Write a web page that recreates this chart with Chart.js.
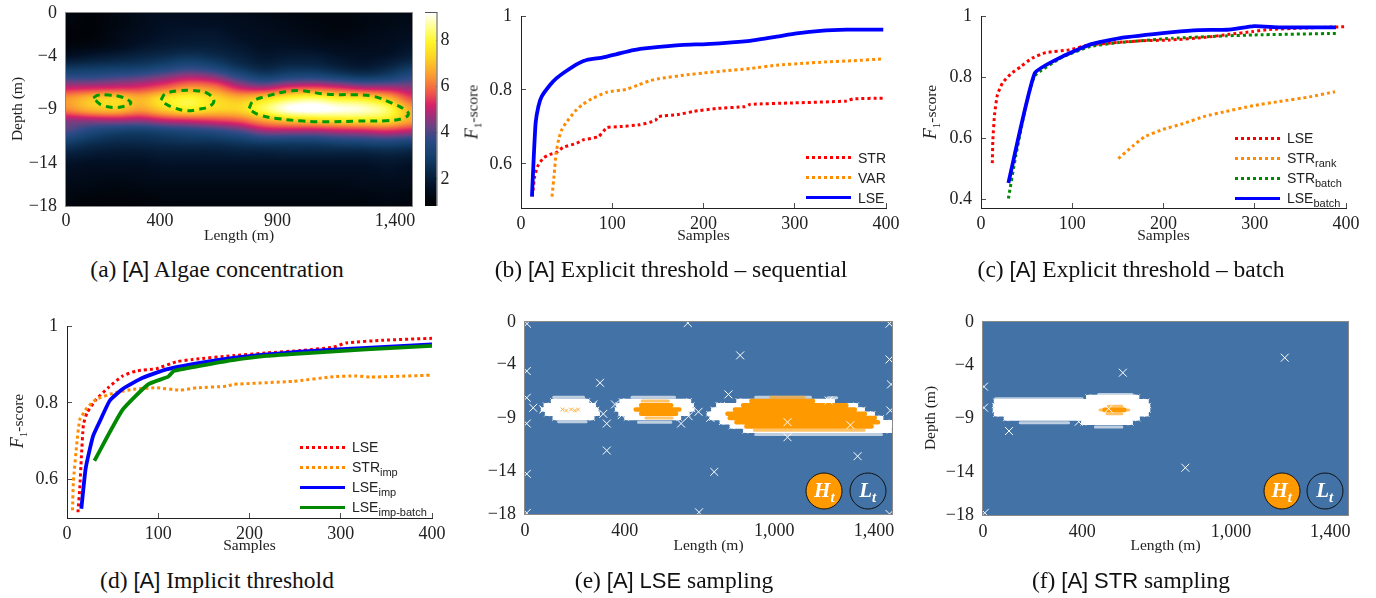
<!DOCTYPE html>
<html>
<head>
<meta charset="utf-8">
<title>Algae sampling</title>
<script src="https://cdn.jsdelivr.net/npm/chart.js@4"></script>
<style>
body { margin: 0; width: 1376px; height: 598px; background: #fff; overflow: hidden; position: relative; font-family: "Liberation Serif", serif; color: #111; }
canvas { position: absolute; }
.caption { position: absolute; font-size: 23.5px; white-space: nowrap; transform: translate(-50%, -50%); }
.sans { font-family: "Liberation Sans", sans-serif; font-size: 22px; }
.ytitle { position: absolute; font-size: 15.5px; white-space: nowrap; color: #222; transform: translate(-50%, -50%) rotate(-90deg); }
.ytitle i { font-size: 18px; }
.ytitle sub { font-size: 11px; line-height: 0; }
.legend { position: absolute; font-family: "Liberation Sans", sans-serif; font-size: 14px; color: #222; white-space: nowrap; transform: translateY(-50%); }
.legend sub { font-size: 11px; line-height: 0; }
.swatch { position: absolute; height: 3px; width: 45px; }
.badge { position: absolute; width: 35px; height: 35px; border: 1.4px solid #111; border-radius: 50%; transform: translate(-50%, -50%); color: #fff; font: italic bold 21px "Liberation Serif", serif; text-align: center; line-height: 33px; }
.badge sub { font-size: 15px; line-height: 0; }
</style>
</head>
<body>
<script>
// (b) explicit threshold, sequential
var bStrSamples = [12.4, 15, 18, 24.5, 32, 39, 46, 61, 68, 85, 94, 108.5, 130, 147, 150.5, 171, 189, 214, 245.5, 251, 298, 357, 364, 397]
var bStrScore = [.512, .566, .593, .616, .626, .631, .645, .656, .665, .674, .698, .701, .706, .717, .728, .733, .742, .75, .755, .761, .765, .77, .776, .778]
var bVarSamples = [34, 36.5, 38.4, 41.6, 44.6, 49, 59, 67.6, 77.4, 94, 116, 129, 141, 152, 181.6, 200, 225, 251, 280, 309, 335, 364, 397]
var bVarScore = [.512, .575, .629, .67, .692, .71, .742, .761, .776, .794, .802, .814, .825, .831, .841, .846, .852, .858, .867, .872, .876, .879, .884]
var bLseSamples = [12, 14, 16, 19, 22.6, 32, 39, 50, 63, 72, 90, 105, 123, 141, 178, 203, 251, 280, 302, 328, 357, 397]
var bLseScore = [.512, .62, .71, .755, .782, .814, .832, .852, .872, .881, .888, .897, .908, .914, .922, .924, .933, .944, .953, .96, .963, .963]

// (c) explicit threshold, batch
var cLseSamples = [12.4, 13, 15, 18, 23.4, 32.5, 43.5, 56, 71, 96.5, 118, 148, 177, 206, 246, 272, 298, 316, 349, 398]
var cLseScore = [.518, .595, .682, .742, .78, .81, .834, .862, .88, .889, .905, .913, .919, .921, .93, .94, .949, .956, .96, .965]
var cRankSamples = [150.6, 166, 179, 199, 221, 246, 268, 298, 327, 360, 388]
var cRankScore = [.533, .573, .604, .628, .647, .672, .687, .706, .72, .735, .752]
var cStrBatchSamples = [30, 38, 49, 59, 89, 120, 151, 210, 270, 299, 389]
var cStrBatchScore = [.402, .54, .704, .804, .865, .9, .913, .927, .935, .938, .943]
var cLseBatchSamples = [30, 59, 89, 120, 151, 210, 239, 270, 299.4, 327, 389]
var cLseBatchScore = [.453, .813, .867, .907, .927, .947, .954, .955, .967, .963, .963]

// (d) implicit threshold
var dLseSamples = [12, 14, 15.7, 18, 22, 32, 45, 61, 76, 98, 120, 138, 182, 219, 255, 292, 306, 347, 400]
var dLseScore = [.515, .578, .656, .743, .774, .809, .839, .87, .883, .889, .907, .913, .923, .93, .936, .945, .956, .963, .968]
var dStrSamples = [6, 7, 11, 14, 22, 32, 52, 72, 98, 124, 142, 175, 182, 248, 292, 317, 332, 400]
var dStrScore = [.52, .595, .7, .756, .787, .809, .826, .835, .839, .833, .839, .843, .848, .856, .868, .87, .867, .872]
var dLseImpSamples = [15.7, 20.5, 28.5, 36, 47, 61, 83, 109, 145.5, 182, 219, 255, 328, 400]
var dLseImpScore = [.524, .63, .713, .752, .806, .836, .865, .887, .904, .917, .926, .933, .943, .952]
var dBatchSamples = [30, 61, 89, 111, 117, 145.5, 182, 219, 268, 328, 400]
var dBatchScore = [.649, .782, .848, .868, .883, .896, .911, .922, .93, .939, .948]

// (a) concentration read at 15 lengths (columns) and every metre of depth (rows)
var heatLengthStep = 105.14
var heatDepthStep = 1
var algaeGrid = [
    [1.2, 1.0, 1.2, 1.4, 1.5, 1.5, 1.5, 1.4, 1.3, 1.2, 1.1, 1.1, 1.2, 1.3, 1.3],
    [1.1, 1.0, 1.2, 1.4, 1.6, 1.6, 1.6, 1.5, 1.4, 1.3, 1.2, 1.1, 1.2, 1.3, 1.4],
    [1.0, 1.0, 1.3, 1.5, 1.7, 1.8, 1.8, 1.6, 1.5, 1.4, 1.3, 1.2, 1.3, 1.4, 1.5],
    [1.1, 1.2, 1.4, 1.7, 1.9, 2.0, 2.0, 1.8, 1.6, 1.6, 1.5, 1.4, 1.4, 1.5, 1.7],
    [1.6, 1.8, 2.0, 2.2, 2.4, 2.6, 2.4, 2.1, 1.8, 1.9, 1.9, 1.7, 1.6, 1.7, 2.0],
    [2.6, 2.7, 2.8, 2.9, 3.2, 3.5, 3.2, 2.6, 2.2, 2.4, 2.4, 2.1, 1.9, 2.2, 2.7],
    [3.7, 3.7, 3.9, 4.1, 4.5, 4.9, 4.6, 3.7, 3.1, 3.4, 3.5, 3.2, 2.9, 3.1, 3.6],
    [5.1, 5.2, 5.3, 5.4, 5.9, 6.5, 6.2, 5.2, 4.9, 5.5, 5.7, 5.4, 5.0, 4.9, 4.6],
    [6.4, 7.0, 7.3, 6.8, 7.6, 8.0, 7.4, 6.9, 7.4, 8.1, 8.4, 7.9, 7.7, 7.0, 5.6],
    [6.2, 6.8, 7.0, 6.5, 7.2, 7.7, 7.3, 7.3, 8.2, 9.1, 9.3, 9.1, 8.9, 8.3, 6.6],
    [4.6, 4.7, 4.8, 4.7, 5.1, 5.3, 5.5, 5.8, 6.6, 7.1, 7.3, 7.5, 7.6, 7.5, 6.6],
    [4.0, 3.4, 3.1, 3.0, 3.2, 3.4, 3.6, 4.0, 4.7, 4.8, 4.8, 5.0, 5.1, 5.3, 5.0],
    [3.0, 2.6, 2.4, 2.4, 2.5, 2.6, 2.6, 2.8, 3.0, 3.0, 3.0, 3.2, 3.3, 3.4, 3.2],
    [2.2, 2.0, 1.9, 1.9, 2.0, 2.0, 2.0, 2.1, 2.1, 2.2, 2.2, 2.2, 2.2, 2.3, 2.2],
    [1.7, 1.6, 1.6, 1.6, 1.7, 1.7, 1.7, 1.7, 1.7, 1.7, 1.7, 1.7, 1.7, 1.8, 1.7],
    [1.5, 1.4, 1.4, 1.4, 1.5, 1.5, 1.5, 1.5, 1.5, 1.5, 1.5, 1.5, 1.5, 1.6, 1.5],
    [1.3, 1.3, 1.2, 1.3, 1.3, 1.3, 1.3, 1.3, 1.3, 1.3, 1.3, 1.3, 1.4, 1.4, 1.4],
    [1.2, 1.1, 1.1, 1.1, 1.2, 1.2, 1.2, 1.2, 1.2, 1.2, 1.2, 1.2, 1.2, 1.3, 1.2],
    [1.1, 1.0, 1.0, 1.0, 1.1, 1.1, 1.1, 1.1, 1.1, 1.1, 1.1, 1.1, 1.1, 1.2, 1.1]
]
var colorbarValues = [.83, 1.6, 2.2, 3, 3.7, 4.3, 4.9, 5.2, 5.7, 6.4, 7.3, 7.9, 8.5, 9.17]
var colorbarColors = [[0, 0, 0], [2, 15, 35], [8, 35, 65], [20, 65, 110], [45, 75, 135], [110, 65, 130], [180, 40, 115], [215, 35, 105], [240, 85, 75], [250, 150, 50], [253, 215, 35], [255, 245, 40], [255, 255, 130], [255, 255, 255]]
var colorbarTicks = [2, 4, 6, 8]
var contourOneLength = [116, 137, 187, 243, 276, 251, 201, 152, 133, 116]
var contourOneDepth = [-7.91, -7.66, -7.66, -7.88, -8.38, -8.69, -8.81, -8.59, -8.29, -7.91]
var contourTwoLength = [404, 421, 477, 541, 598, 629, 612, 562, 513, 456, 421, 404]
var contourTwoDepth = [-8.13, -7.57, -7.26, -7.23, -7.45, -8.13, -8.69, -8.99, -9.12, -8.81, -8.44, -8.13]
var contourThreeLength = [779, 796, 853, 952, 1008, 1107, 1235, 1306, 1391, 1440, 1457, 1433, 1362, 1235, 1121, 1008, 895, 824, 789, 779]
var contourThreeDepth = [-8.9, -8.22, -7.76, -7.26, -7.26, -7.57, -7.63, -7.76, -8.44, -8.99, -9.43, -9.83, -10.05, -10.08, -10.15, -10.08, -9.83, -9.52, -9.12, -8.9]

// (e) LSE sampling: rows are depth, first and last length of the run
var eWhiteRows = [
    [-7.4, 112, 250], [-7.8, 83, 276], [-8.2, 72, 287], [-8.6, 88, 292], [-9, 119, 270],
    [-7.4, 387, 658], [-7.8, 374, 669], [-8.2, 369, 672], [-8.6, 383, 652], [-9, 407, 618],
    [-7.4, 856, 1235], [-7.8, 775, 1328], [-8.2, 755, 1355], [-8.6, 738, 1395], [-9, 749, 1429], [-9.4, 789, 1472], [-9.8, 829, 1472], [-10.2, 883, 1463]
]
var eWhiteEdgeRows = [
    [-7.05, 115, 235], [-9.35, 135, 245],
    [-7.05, 429, 600], [-9.4, 455, 585],
    [-7.05, 925, 1145], [-7.1, 1215, 1250], [-10.55, 925, 1430]
]
var eOrangeRows = [
    [-7.8, 466, 586], [-8.2, 444, 619], [-8.6, 466, 606],
    [-7.4, 908, 1155], [-7.8, 875, 1289], [-8.2, 842, 1323], [-8.6, 812, 1363], [-9, 821, 1403], [-9.4, 848, 1416], [-9.8, 888, 1390]
]
var eOrangeEdgeRows = [[-7.4, 470, 575], [-9, 485, 590], [-7.05, 985, 1120], [-10.15, 920, 1360]]
var eFaintLength = [150, 165, 185, 200, 213]
var eFaintDepth = [-8.2, -8.3, -8.2, -8.3, -8.2]
var eCrossLength = [8, 653, 1462, 863, 1462, 7, 301, 1468, 816, 7, 33, 785, 361, 314, 1218, 1465, 7, 328, 388, 626, 656, 696, 743, 1053, 1053, 1305, 328, 1334, 7, 759, 698, 7, 1462, 274, 74]
var eCrossDepth = [-.16, -.09, -.16, -3.13, -3.51, -4.6, -5.7, -5.85, -6.79, -7.1, -8.04, -7.89, -7.73, -8.61, -7.36, -8.29, -9.52, -9.52, -8.73, -9.52, -8.83, -8.42, -8.98, -9.39, -10.8, -9.67, -12.05, -12.58, -14.24, -14.05, -17.84, -17.9, -18, -7.73, -8.2]

// (f) STR sampling
var fWhiteRows = [
    [-7, 424, 622], [-7.4, 52, 660], [-7.8, 48, 666], [-8.2, 48, 666], [-8.6, 52, 660], [-9, 92, 624], [-9.4, 404, 596]
]
var fWhiteEdgeRows = [[-6.75, 466, 601], [-7.15, 50, 400], [-9.4, 150, 345], [-9.8, 453, 560]]
var fOrangeRows = [[-8.2, 490, 570]]
var fOrangeEdgeRows = [[-7.85, 505, 560], [-8.2, 472, 588], [-8.55, 500, 560]]
var fCrossLength = [1217, 564, 4, 4, 105, 386, 816, 7, 507]
var fCrossDepth = [-3.33, -4.73, -6.03, -7.99, -10.17, -9.3, -13.59, -17.8, -8.09]

var sampleTicks = [0, 100, 200, 300, 400]
var sampleLabels = ["0", "100", "200", "300", "400"]
var depthTicks = [0, -4, -9, -14, -18]
var depthLabels = ["0", "\u22124", "\u22129", "\u221214", "\u221218"]
var lengthMax = 1472
var scoreTicksShort = [0.6, 0.8, 1]
var scoreTicksLong = [0.4, 0.6, 0.8, 1]

var RED = "#ff0000"
var ORANGE = "#ff8c00"
var GREEN = "#008800"
var BLUE = "#0000ff"
var AXIS = "#222"
var TICK_FONT = { family: "Liberation Serif", size: 18 }
var TITLE_FONT = { family: "Liberation Serif", size: 15.5 }

Chart.defaults.animation = false
Chart.defaults.responsive = false

function zip(xs, ys) {
    var out = []
    for (let i = 0; i < xs.length; i++) {
        out.push({ x: xs[i], y: ys[i] })
    }
    return out
}

function dotted(label, xs, ys, color) {
    return { label: label, data: zip(xs, ys), borderColor: color, borderWidth: 3, borderDash: [3, 3], pointRadius: 0, showLine: true, tension: 0.15 }
}

function solid(label, xs, ys, color) {
    return { label: label, data: zip(xs, ys), borderColor: color, borderWidth: 3.8, pointRadius: 0, showLine: true, tension: 0.15, borderJoinStyle: "round" }
}

function rowPoints(rows) {
    var out = []
    rows.forEach(function(r) {
        out.push({ x: r[1], y: r[0] })
        out.push({ x: r[2], y: r[0] })
        out.push({ x: NaN, y: NaN })
    })
    return out
}

function rowsToLine(label, rows, color) {
    return { label: label, data: rowPoints(rows), borderColor: color, borderWidth: 4.6, borderCapStyle: "round", pointRadius: 0, showLine: true, spanGaps: false }
}

function edgeRowsToLine(label, rows, color) {
    return { label: label, data: rowPoints(rows), borderColor: color, borderWidth: 3, borderCapStyle: "round", pointRadius: 0, showLine: true, spanGaps: false }
}

function rowEnds(label, rows, color) {
    var out = []
    rows.forEach(function(r) {
        out.push({ x: r[1], y: r[0] })
        out.push({ x: r[2], y: r[0] })
    })
    return { label: label, data: out, pointStyle: "crossRot", pointRadius: 3.8, pointBorderColor: color, pointBorderWidth: 0.9, showLine: false }
}

function crosses(label, xs, ys, color, size) {
    return { label: label, data: zip(xs, ys), pointStyle: "crossRot", pointRadius: size, pointBorderColor: color, pointBorderWidth: 1, showLine: false }
}

// later datasets go on top
function stack(datasets) {
    datasets.forEach(function(d, i) { d.order = -i })
    return datasets
}

var fixedTicks = function(values) {
    return function(scale) {
        scale.ticks = values.map(function(v) { return { value: v } })
    }
}

var framePlugin = {
    id: "frame",
    afterDatasetsDraw: function(chart, args, opts) {
        if (!opts.color) return
        var a = chart.chartArea, ctx = chart.ctx
        ctx.save()
        ctx.strokeStyle = opts.color
        ctx.lineWidth = 1
        ctx.strokeRect(a.left - 0.5, a.top - 0.5, a.width + 1, a.height + 1)
        ctx.restore()
    }
}

var backgroundPlugin = {
    id: "plotBackground",
    beforeDatasetsDraw: function(chart, args, opts) {
        if (!opts.color) return
        var a = chart.chartArea
        chart.ctx.fillStyle = opts.color
        chart.ctx.fillRect(a.left, a.top, a.width, a.height)
    }
}

function colorFor(v) {
    var n = colorbarValues.length
    if (v <= colorbarValues[0]) return colorbarColors[0]
    if (v >= colorbarValues[n - 1]) return colorbarColors[n - 1]
    var i = 1
    while (colorbarValues[i] < v) i++
    var t = (v - colorbarValues[i - 1]) / (colorbarValues[i] - colorbarValues[i - 1])
    var a = colorbarColors[i - 1], b = colorbarColors[i]
    return [a[0] + (b[0] - a[0]) * t, a[1] + (b[1] - a[1]) * t, a[2] + (b[2] - a[2]) * t]
}

function cubic(p0, p1, p2, p3, t) {
    return p1 + 0.5 * t * (p2 - p0 + t * (2 * p0 - 5 * p1 + 4 * p2 - p3 + t * (3 * (p1 - p2) + p3 - p0)))
}

function gridAt(r, c) {
    r = Math.max(0, Math.min(algaeGrid.length - 1, r))
    c = Math.max(0, Math.min(algaeGrid[0].length - 1, c))
    return algaeGrid[r][c]
}

// the image is resampled only on screen, the values stay in algaeGrid
function heatValue(length, depth) {
    var fc = length / heatLengthStep, fr = -depth / heatDepthStep
    var c = Math.floor(fc), r = Math.floor(fr)
    var col = []
    for (let k = -1; k <= 2; k++) {
        col.push(cubic(gridAt(r + k, c - 1), gridAt(r + k, c), gridAt(r + k, c + 1), gridAt(r + k, c + 2), fc - c))
    }
    return cubic(col[0], col[1], col[2], col[3], fr - r)
}

var heatPlugin = {
    id: "heat",
    beforeDatasetsDraw: function(chart) {
        var a = chart.chartArea, xs = chart.scales.x, ys = chart.scales.y
        var w = Math.round(a.width), h = Math.round(a.height)
        var img = chart.ctx.createImageData(w, h)
        for (let j = 0; j < h; j++) {
            var depth = ys.getValueForPixel(a.top + j + 0.5)
            for (let i = 0; i < w; i++) {
                var rgb = colorFor(heatValue(xs.getValueForPixel(a.left + i + 0.5), depth))
                var p = (j * w + i) * 4
                img.data[p] = rgb[0]
                img.data[p + 1] = rgb[1]
                img.data[p + 2] = rgb[2]
                img.data[p + 3] = 255
            }
        }
        chart.ctx.putImageData(img, a.left, a.top)
    }
}

var colorbarPlugin = {
    id: "colorbarFill",
    beforeDatasetsDraw: function(chart) {
        var a = chart.chartArea, ys = chart.scales.y, ctx = chart.ctx
        var g = ctx.createLinearGradient(0, ys.getPixelForValue(ys.min), 0, ys.getPixelForValue(ys.max))
        colorbarValues.forEach(function(v, i) {
            var c = colorbarColors[i]
            g.addColorStop((v - ys.min) / (ys.max - ys.min), "rgb(" + c[0] + "," + c[1] + "," + c[2] + ")")
        })
        ctx.fillStyle = g
        ctx.fillRect(a.left, a.top, a.width, a.height)
    }
}

// a panel canvas is placed so that the plot area lands on plot = [left, top, right, bottom]
function panel(cfg) {
    var plot = cfg.plot
    var marginL = 60, marginT = 12, marginR = 42
    var xHeight = cfg.xHeight || 0
    var canvas = document.createElement("canvas")
    canvas.width = plot[2] - plot[0] + marginL + marginR
    canvas.height = plot[3] - plot[1] + marginT + 48
    canvas.style.left = (plot[0] - marginL) + "px"
    canvas.style.top = (plot[1] - marginT) + "px"
    document.body.appendChild(canvas)
    var inside = cfg.tickInside
    var grid = { drawOnChartArea: false, drawTicks: inside, tickLength: -5, color: AXIS, tickWidth: 0.8 }
    var border = { display: inside, color: AXIS, width: 1 }
    return new Chart(canvas, {
        type: "scatter",
        data: { datasets: cfg.datasets },
        plugins: [backgroundPlugin, framePlugin].concat(cfg.plugins || []),
        options: {
            layout: { padding: { left: 0, top: marginT, right: marginR, bottom: canvas.height - marginT - (plot[3] - plot[1]) - xHeight } },
            plugins: {
                legend: { display: false },
                tooltip: { enabled: false },
                plotBackground: { color: cfg.background },
                frame: { color: cfg.frame }
            },
            scales: {
                x: {
                    type: "linear", min: cfg.xMin, max: cfg.xMax,
                    afterBuildTicks: fixedTicks(cfg.xTicks),
                    afterFit: function(s) { s.height = xHeight; s.paddingLeft = 0; s.paddingRight = 0 },
                    ticks: {
                        font: TICK_FONT, color: AXIS, maxRotation: 0, autoSkip: false,
                        padding: (inside ? 5 : 0) + cfg.xTickGap,
                        callback: function(v) { return cfg.xLabels[cfg.xTicks.indexOf(v)] }
                    },
                    grid: grid, border: border,
                    title: { display: true, text: cfg.xTitle, font: TITLE_FONT, color: AXIS, padding: 0 }
                },
                y: {
                    type: "linear", min: cfg.yMin, max: cfg.yMax,
                    afterBuildTicks: fixedTicks(cfg.yTicks),
                    afterFit: function(s) { s.width = marginL; s.paddingTop = 0; s.paddingBottom = 0 },
                    ticks: {
                        font: TICK_FONT, color: AXIS, autoSkip: false,
                        padding: (inside ? 5 : 0) + 9,
                        callback: cfg.yLabels ? function(v) { return cfg.yLabels[cfg.yTicks.indexOf(v)] } : function(v) { return String(v) }
                    },
                    grid: grid, border: border
                }
            }
        }
    })
}

function addHtml(cls, html, x, y) {
    var el = document.createElement("div")
    el.className = cls
    el.innerHTML = html
    el.style.left = x + "px"
    el.style.top = y + "px"
    document.body.appendChild(el)
    return el
}

function addLegend(x, y, rows) {
    rows.forEach(function(row, i) {
        var rowY = y + i * 20
        var sw = document.createElement("div")
        sw.className = "swatch"
        sw.style.left = x + "px"
        sw.style.top = (rowY - 1.5) + "px"
        sw.style.background = row[2]
            ? "repeating-linear-gradient(90deg," + row[1] + " 0 3px,transparent 3px 6px)"
            : row[1]
        document.body.appendChild(sw)
        addHtml("legend", row[0], x + 52, rowY)
    })
}

panel({
    plot: [66, 13, 412, 206], xMin: 0, xMax: lengthMax, yMin: -18, yMax: 0,
    xTicks: [0, 400, 900, 1400], xLabels: ["0", "400", "900", "1,400"],
    yTicks: depthTicks, yLabels: depthLabels,
    xTitle: "Length (m)", xHeight: 39.5, xTickGap: 4, tickInside: false, frame: "#8a8a8a",
    plugins: [heatPlugin],
    datasets: stack([
        { label: "contour 1", data: zip(contourOneLength, contourOneDepth), borderColor: "#009a00", borderWidth: 3, borderDash: [7, 5], pointRadius: 0, showLine: true, tension: 0.4 },
        { label: "contour 2", data: zip(contourTwoLength, contourTwoDepth), borderColor: "#009a00", borderWidth: 3, borderDash: [7, 5], pointRadius: 0, showLine: true, tension: 0.4 },
        { label: "contour 3", data: zip(contourThreeLength, contourThreeDepth), borderColor: "#009a00", borderWidth: 3, borderDash: [7, 5], pointRadius: 0, showLine: true, tension: 0.4 }
    ])
})

// colorbar
var barCanvas = document.createElement("canvas")
barCanvas.width = 40
barCanvas.height = 197
barCanvas.style.left = "425px"
barCanvas.style.top = "9px"
document.body.appendChild(barCanvas)
new Chart(barCanvas, {
    type: "scatter",
    data: { datasets: [] },
    plugins: [colorbarPlugin, framePlugin],
    options: {
        layout: { padding: { top: 4, bottom: 0 } },
        plugins: { legend: { display: false }, tooltip: { enabled: false }, frame: { color: "#555" } },
        scales: {
            x: { display: false, min: 0, max: 1 },
            y: {
                position: "right", type: "linear", min: .83, max: 9.17,
                afterBuildTicks: fixedTicks(colorbarTicks),
                afterFit: function(s) { s.width = 28.5; s.paddingTop = 0; s.paddingBottom = 0 },
                ticks: { font: TICK_FONT, color: AXIS, padding: 7 },
                grid: { drawOnChartArea: false, tickLength: -3, color: "#777" },
                border: { display: false }
            }
        }
    }
})

panel({
    plot: [521, 16, 886, 208], xMin: 0, xMax: 400, yMin: 0.481, yMax: 1,
    xTicks: sampleTicks, xLabels: sampleLabels, yTicks: scoreTicksShort,
    xTitle: "Samples", xHeight: 37.3, xTickGap: 5, tickInside: true,
    datasets: stack([
        dotted("STR", bStrSamples, bStrScore, RED),
        dotted("VAR", bVarSamples, bVarScore, ORANGE),
        solid("LSE", bLseSamples, bLseScore, BLUE)
    ])
})

panel({
    plot: [981, 16, 1346, 208], xMin: 0, xMax: 400, yMin: 0.371, yMax: 1,
    xTicks: sampleTicks, xLabels: sampleLabels, yTicks: scoreTicksLong,
    xTitle: "Samples", xHeight: 37.3, xTickGap: 5, tickInside: true,
    datasets: stack([
        dotted("LSE", cLseSamples, cLseScore, RED),
        dotted("STR rank", cRankSamples, cRankScore, ORANGE),
        dotted("STR batch", cStrBatchSamples, cStrBatchScore, GREEN),
        solid("LSE batch", cLseBatchSamples, cLseBatchScore, BLUE)
    ])
})

panel({
    plot: [67, 326, 432, 518], xMin: 0, xMax: 400, yMin: 0.5, yMax: 1,
    xTicks: sampleTicks, xLabels: sampleLabels, yTicks: scoreTicksShort,
    xTitle: "Samples", xHeight: 37, xTickGap: 5, tickInside: true,
    datasets: stack([
        dotted("LSE", dLseSamples, dLseScore, RED),
        dotted("STR imp", dStrSamples, dStrScore, ORANGE),
        solid("LSE imp", dLseImpSamples, dLseImpScore, BLUE),
        solid("LSE imp-batch", dBatchSamples, dBatchScore, GREEN)
    ])
})

panel({
    plot: [525, 322, 892, 514], xMin: 0, xMax: lengthMax, yMin: -18, yMax: 0,
    xTicks: [0, 400, 1000, 1400], xLabels: ["0", "400", "1,000", "1,400"],
    yTicks: depthTicks, yLabels: depthLabels,
    xTitle: "Length (m)", xHeight: 41.3, xTickGap: 6.5, tickInside: false, frame: "#8a8a8a", background: "#4373a6",
    datasets: stack([
        rowEnds("white ends", eWhiteRows, "#ffffff"),
        edgeRowsToLine("white edge", eWhiteEdgeRows, "rgba(255,255,255,0.65)"),
        rowsToLine("white", eWhiteRows, "#ffffff"),
        edgeRowsToLine("orange edge", eOrangeEdgeRows, "rgba(255,153,0,0.6)"),
        rowsToLine("orange", eOrangeRows, "#ff9900"),
        crosses("faint", eFaintLength, eFaintDepth, "#ffb040", 2.6),
        crosses("samples", eCrossLength, eCrossDepth, "#ffffff", 5.6)
    ])
})

panel({
    plot: [983, 322, 1348, 515], xMin: 0, xMax: lengthMax, yMin: -18, yMax: 0,
    xTicks: [0, 400, 1000, 1400], xLabels: ["0", "400", "1,000", "1,400"],
    yTicks: depthTicks, yLabels: depthLabels,
    xTitle: "Length (m)", xHeight: 40.3, xTickGap: 6.5, tickInside: false, frame: "#8a8a8a", background: "#4373a6",
    datasets: stack([
        rowEnds("white ends", fWhiteRows, "#ffffff"),
        edgeRowsToLine("white edge", fWhiteEdgeRows, "rgba(255,255,255,0.65)"),
        rowsToLine("white", fWhiteRows, "#ffffff"),
        edgeRowsToLine("orange edge", fOrangeEdgeRows, "rgba(255,153,0,0.6)"),
        rowsToLine("orange", fOrangeRows, "#ff9900"),
        crosses("samples", fCrossLength, fCrossDepth, "#ffffff", 5.6)
    ])
})

addLegend(806, 157.7, [["STR", RED, true], ["VAR", ORANGE, true], ["LSE", BLUE, false]])
addLegend(1235, 138, [["LSE", RED, true], ["STR<sub>rank</sub>", ORANGE, true], ["STR<sub>batch</sub>", GREEN, true], ["LSE<sub>batch</sub>", BLUE, false]])
addLegend(300, 447.3, [["LSE", RED, true], ["STR<sub>imp</sub>", ORANGE, true], ["LSE<sub>imp</sub>", BLUE, false], ["LSE<sub>imp-batch</sub>", GREEN, false]])

addHtml("ytitle", "Depth (m)", 16.7, 109)
addHtml("ytitle", "<i>F</i><sub>1</sub>-score", 471.7, 112)
addHtml("ytitle", "<i>F</i><sub>1</sub>-score", 930, 112)
addHtml("ytitle", "<i>F</i><sub>1</sub>-score", 16.7, 421)
addHtml("ytitle", "Depth (m)", 930, 418)

addHtml("badge", "H<sub>t</sub>", 824.3, 490.7).style.background = "#ff9900"
addHtml("badge", "L<sub>t</sub>", 867.7, 490.7)
addHtml("badge", "H<sub>t</sub>", 1281.7, 490.7).style.background = "#ff9900"
addHtml("badge", "L<sub>t</sub>", 1324.7, 490.7)

addHtml("caption", '(a) <span class="sans">[A]</span> Algae concentration', 217, 269)
addHtml("caption", '(b) <span class="sans">[A]</span> Explicit threshold \u2013 sequential', 671, 269)
addHtml("caption", '(c) <span class="sans">[A]</span> Explicit threshold \u2013 batch', 1131, 269)
addHtml("caption", '(d) <span class="sans">[A]</span> Implicit threshold', 217, 580)
addHtml("caption", '(e) <span class="sans">[A]</span> <span class="sans">LSE</span> sampling', 674, 580)
addHtml("caption", '(f) <span class="sans">[A]</span> <span class="sans">STR</span> sampling', 1131, 580)
</script>
</body>
</html>
